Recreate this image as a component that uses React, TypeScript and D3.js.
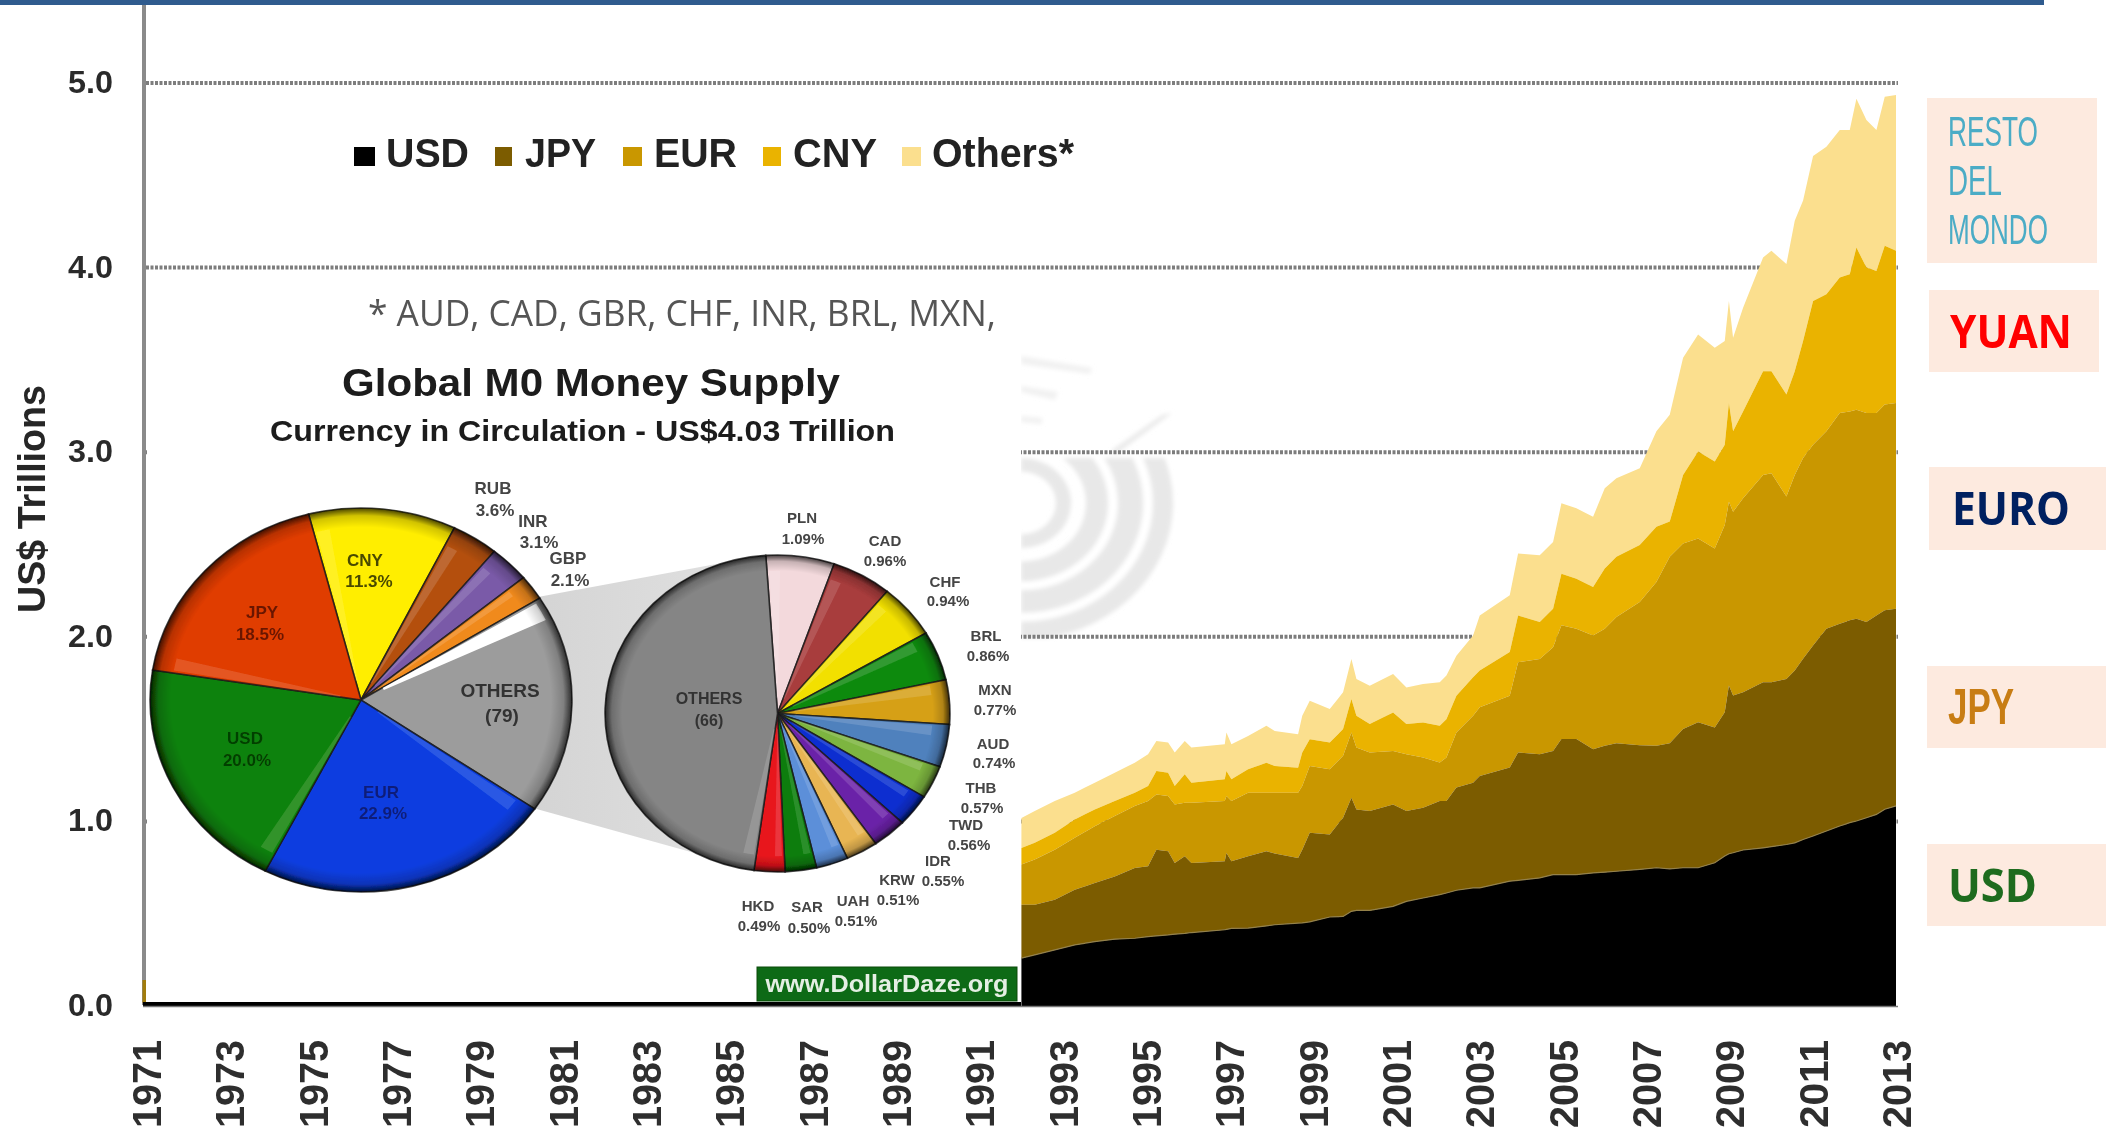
import React from "react";
import * as d3 from "d3";

// ---------- data ----------
const years = [
  1992.01,1992.33,1992.81,1993.29,1993.77,1994.25,1994.73,1995.05,1995.25,1995.53,1995.69,1995.93,1996.09,1996.89,1996.93,1997.05,1997.45,1997.89,1998.09,1998.65,1998.75,1998.93,
  1999.41,1999.73,1999.93,2000.05,2000.37,2000.93,2001.25,2001.65,2002.05,2002.21,2002.45,2002.85,2003.01,2003.73,2003.93,2004.45,2004.77,2004.97,2005.33,2005.73,
  2006.01,2006.29,2006.85,2007.25,2007.57,2007.89,2008.25,2008.65,2008.89,2008.99,2009.09,2009.33,2009.81,2010.01,2010.37,2010.57,2010.77,2011.01,2011.33,2011.65,2011.89,2012.05,2012.29,2012.53,2012.73,2013.0,
];
const usdTop = [
  .259,.277,.304,.331,.349,.362,.367,.376,.380,.385,.389,.393,.398,.413,.415,.420,.422,.434,.440,.449,.450,.456,
  .482,.485,.513,.518,.518,.540,.567,.585,.603,.612,.627,.640,.640,.676,.681,.694,.712,.712,.712,.721,
  .725,.730,.740,.749,.743,.749,.749,.776,.812,.825,.830,.845,.857,.863,.875,.884,.902,.921,.948,.975,.993,1.002,1.020,1.038,1.066,1.084,
];
const jpyTop = [
  .548,.548,.576,.630,.666,.702,.748,.757,.847,.838,.775,.811,.775,.784,.829,.784,.811,.838,.826,.802,.847,.938,
  .929,1.020,1.128,1.065,1.056,1.092,1.056,1.074,1.110,1.110,1.183,1.210,1.246,1.292,1.373,1.364,1.382,1.446,1.446,1.391,
  1.410,1.424,1.413,1.410,1.424,1.500,1.537,1.509,1.591,1.736,1.682,1.700,1.754,1.754,1.772,1.817,1.881,1.953,2.044,2.071,2.089,2.098,2.080,2.116,2.144,2.152,
];
const eurTop = [
  .766,.793,.847,.911,.974,1.029,1.083,1.110,1.146,1.137,1.092,1.101,1.101,1.110,1.137,1.110,1.155,1.155,1.155,1.155,1.192,1.300,
  1.283,1.355,1.482,1.400,1.373,1.382,1.364,1.346,1.319,1.346,1.482,1.572,1.618,1.681,1.862,1.880,1.944,2.062,2.043,2.007,
  2.044,2.107,2.189,2.297,2.433,2.506,2.533,2.479,2.605,2.732,2.678,2.750,2.877,2.886,2.760,2.877,2.968,3.040,3.113,3.212,3.221,3.230,3.212,3.212,3.258,3.267,
];
const cnyTop = [
  .856,.884,.938,1.010,1.065,1.110,1.155,1.192,1.273,1.264,1.192,1.255,1.210,1.228,1.273,1.228,1.282,1.318,1.300,1.291,1.373,1.445,
  1.428,1.500,1.663,1.572,1.527,1.590,1.527,1.536,1.518,1.554,1.681,1.781,1.817,1.917,2.116,2.080,2.152,2.342,2.315,2.270,
  2.370,2.433,2.497,2.596,2.624,2.877,3.004,2.950,3.040,3.267,3.113,3.221,3.439,3.439,3.312,3.439,3.602,3.819,3.855,3.946,3.964,4.109,4.000,3.982,4.118,4.091,
];
const othersTop = [
  1.019,1.056,1.110,1.155,1.210,1.264,1.318,1.364,1.436,1.427,1.373,1.436,1.400,1.418,1.481,1.418,1.463,1.518,1.490,1.472,1.572,1.653,
  1.609,1.699,1.880,1.772,1.735,1.799,1.726,1.744,1.754,1.790,1.898,2.007,2.116,2.225,2.451,2.442,2.514,2.723,2.696,2.650,
  2.805,2.859,2.913,3.113,3.203,3.511,3.638,3.566,3.602,3.819,3.620,3.783,4.055,4.091,4.019,4.254,4.363,4.605,4.655,4.745,4.745,4.915,4.800,4.745,4.925,4.935,
];
const stackNames = ["USD", "JPY", "EUR", "CNY", "Others*"];
const stackColors = ["#000000", "#7b5b00", "#c99700", "#eab300", "#fbdf8e"];
const stackTops = [usdTop, jpyTop, eurTop, cnyTop, othersTop];

const yTicks = [0, 1, 2, 3, 4, 5];
const xTickYears = d3.range(1971, 2014, 2);

const mainNames = ["CNY", "RUB", "INR", "GBP", "OTHERS", "EUR", "USD", "JPY"];
const mainShares = [11.3, 3.6, 3.1, 2.1, 18.5, 22.9, 20.0, 18.5];
const mainColors = ["#ffee00", "#b4500f", "#7a5aa8", "#f08a1e", "#9c9c9c", "#0a3ee0", "#0f820a", "#e03c00"];

const otherNames = ["PLN", "CAD", "CHF", "BRL", "MXN", "AUD", "THB", "TWD", "IDR", "KRW", "UAH", "SAR", "HKD", "OTHERS"];
const otherShares = [1.09, 0.96, 0.94, 0.86, 0.77, 0.74, 0.57, 0.56, 0.55, 0.51, 0.51, 0.50, 0.49, 7.94];
const otherColors = ["#f3d9dc", "#a83c3c", "#f2e000", "#0f8a0f", "#d6a017", "#4f81bd", "#7db53f", "#0a2fd0", "#6b22a8", "#e8b552", "#5b8fd9", "#0a7d0a", "#e8141c", "#858585"];

// text, x, baseline y, colour, size
const mainLabels: [string, number, number, string, number][] = [
  ["RUB", 493, 494, "#444", 17], ["3.6%", 495, 516, "#444", 17],
  ["INR", 533, 527, "#444", 17], ["3.1%", 539, 548, "#444", 17],
  ["GBP", 568, 564, "#444", 17], ["2.1%", 570, 586, "#444", 17],
  ["CNY", 365, 566, "#4a4a00", 17], ["11.3%", 369, 587, "#4a4a00", 17],
  ["JPY", 262, 618, "#6a1800", 17], ["18.5%", 260, 640, "#6a1800", 17],
  ["USD", 245, 744, "#063f06", 17], ["20.0%", 247, 766, "#063f06", 17],
  ["EUR", 381, 798, "#0a1f7a", 17], ["22.9%", 383, 819, "#0a1f7a", 17],
  ["OTHERS", 500, 697, "#333", 19], ["(79)", 502, 722, "#333", 19],
];
const otherLabels: [string, number, number, string, number][] = [
  ["PLN", 802, 523, "#444", 15], ["1.09%", 803, 544, "#444", 15],
  ["CAD", 885, 546, "#444", 15], ["0.96%", 885, 566, "#444", 15],
  ["CHF", 945, 587, "#444", 15], ["0.94%", 948, 606, "#444", 15],
  ["BRL", 986, 641, "#444", 15], ["0.86%", 988, 661, "#444", 15],
  ["MXN", 995, 695, "#444", 15], ["0.77%", 995, 715, "#444", 15],
  ["AUD", 993, 749, "#444", 15], ["0.74%", 994, 768, "#444", 15],
  ["THB", 981, 793, "#444", 15], ["0.57%", 982, 813, "#444", 15],
  ["TWD", 966, 830, "#444", 15], ["0.56%", 969, 850, "#444", 15],
  ["IDR", 938, 866, "#444", 15], ["0.55%", 943, 886, "#444", 15],
  ["KRW", 897, 885, "#444", 15], ["0.51%", 898, 905, "#444", 15],
  ["UAH", 853, 906, "#444", 15], ["0.51%", 856, 926, "#444", 15],
  ["SAR", 807, 912, "#444", 15], ["0.50%", 809, 933, "#444", 15],
  ["HKD", 758, 911, "#444", 15], ["0.49%", 759, 931, "#444", 15],
  ["OTHERS", 709, 704, "#333", 16], ["(66)", 709, 726, "#333", 16],
];

// ---------- layout ----------
const W = 2106, H = 1135;
const x = d3.scaleLinear().domain([1971, 2013]).range([146, 1896]);
const y = d3.scaleLinear().domain([0, 5]).range([1006, 83]);
const ARIAL = "'Liberation Sans', Arial, sans-serif";
const NARROW = "'Liberation Sans Narrow', 'Liberation Sans', sans-serif";
const NOTO = "'Open Sans', 'Noto Sans', sans-serif";

const legendLayout = [
  { sq: 354, sw: 21, tx: 386, tw: 83 },
  { sq: 495, sw: 17, tx: 525, tw: 71 },
  { sq: 623, sw: 19, tx: 654, tw: 83 },
  { sq: 763, sw: 18, tx: 793, tw: 84 },
  { sq: 902, sw: 19, tx: 932, tw: 142 },
];

const sideLabels = [
  { box: [1927, 98, 170, 165], lines: [["RESTO", 1948, 146, 90], ["DEL", 1948, 195, 54], ["MONDO", 1948, 244, 100]], color: "#4bacc6", font: NARROW, weight: 400, size: 43 },
  { box: [1929, 290, 170, 82], lines: [["YUAN", 1950, 348, 122]], color: "#ff0000", font: NOTO, weight: 700, size: 46 },
  { box: [1929, 467, 177, 83], lines: [["EURO", 1952, 525, 118]], color: "#002060", font: NOTO, weight: 700, size: 46 },
  { box: [1927, 666, 179, 82], lines: [["JPY", 1948, 724, 66]], color: "#c87d14", font: NARROW, weight: 700, size: 50 },
  { box: [1927, 844, 179, 82], lines: [["USD", 1948, 902, 89]], color: "#1e6b1e", font: NOTO, weight: 700, size: 46 },
];

function Pie({ id, cx, cy, rx, ry, names, shares, colors, start, glint }: any) {
  const pie = d3.pie<number>().sort(null).startAngle(start).endAngle(start + 2 * Math.PI);
  const arcs = pie(shares);
  const full = d3.arc<any>().innerRadius(0).outerRadius(100);
  const sheen = d3.arc<any>().innerRadius(10).outerRadius(90);
  const glintArc = d3.arc<any>().innerRadius(12).outerRadius(97);
  return (
    <g transform={`translate(${cx},${cy}) scale(${rx / 100},${ry / 100})`}>
      {arcs.map((a: any, i: number) => (
        <path key={names[i]} d={full(a) as string} fill={colors[i]} stroke="#1a1a1a" strokeOpacity={0.8} strokeWidth={1.6} vectorEffect="non-scaling-stroke" />
      ))}
      {arcs.map((a: any, i: number) => {
        const span = a.endAngle - a.startAngle;
        if (glint === names[i]) {
          return <path key={names[i] + "s"} d={glintArc({ startAngle: a.startAngle + 0.015, endAngle: a.startAngle + 0.115 }) as string} fill="#fff" />;
        }
        return (
          <path key={names[i] + "s"} d={sheen({ startAngle: a.startAngle + 0.015, endAngle: a.startAngle + 0.015 + Math.min(span * 0.25, 0.07) }) as string}
            fill="#fff" fillOpacity={0.14} />
        );
      })}
      <circle r={100} fill={`url(#rim-${id})`} />
    </g>
  );
}

function Rim({ id }: { id: string }) {
  return (
    <radialGradient id={`rim-${id}`} gradientUnits="userSpaceOnUse" cx={0} cy={0} r={100}>
      <stop offset="0.9" stopColor="#000" stopOpacity={0} />
      <stop offset="0.96" stopColor="#000" stopOpacity={0.18} />
      <stop offset="1" stopColor="#000" stopOpacity={0.72} />
    </radialGradient>
  );
}

export default function App() {
  const areas = stackTops.map((tops, s) =>
    d3.area<number>()
      .x((_, i) => x(years[i]))
      .y0((_, i) => (s === 0 ? y(0) : y(stackTops[s - 1][i])))
      .y1((d) => y(d))(tops) as string
  ).map((d, s) => ({ d, color: stackColors[s], name: stackNames[s] }));
  const usdEdge = d3.line<number>().x((_, i) => x(years[i])).y((d) => y(d))(usdTop) as string;

  const ring = d3.arc<any>();
  const ringBands = [[35, 50], [65, 87], [97, 122], [132, 152]];

  return (
    <svg width={W} height={H} viewBox={`0 0 ${W} ${H}`} style={{ position: "absolute", left: 0, top: 0, display: "block", background: "#fff" }}>
      <defs>
        <filter id="soft" x="0" y="0" width="100%" height="100%"><feGaussianBlur stdDeviation="0.6" /></filter>
        <filter id="softer" x="-10%" y="-10%" width="120%" height="120%"><feGaussianBlur stdDeviation="2" /></filter>
        <clipPath id="wm"><rect x={1021} y={458} width={170} height={180} /></clipPath>
        <Rim id="a" />
        <Rim id="b" />
        <linearGradient id="fan" x1="0" x2="1" y1="0" y2="0">
          <stop offset="0" stopColor="#d4d4d4" />
          <stop offset="1" stopColor="#e2e2e2" />
        </linearGradient>
      </defs>

      <g filter="url(#soft)">
        {/* watermark behind the plot */}
        <g filter="url(#softer)">
          <g clipPath="url(#wm)">
            <g transform="translate(1021,503) scale(1,0.9)">
              {ringBands.map(([a, b]) => (
                <path key={a} d={ring({ innerRadius: a, outerRadius: b, startAngle: 0, endAngle: Math.PI }) as string} fill="#e8e8e8" />
              ))}
            </g>
          </g>
          <path d="M1115 455 L1172 413 L1162 415 L1112 450 Z" fill="#eaeaea" />
          <path d="M1021 356 L1092 368 L1090 374 L1021 364 Z M1021 386 L1058 392 L1055 400 L1021 392 Z M1021 416 L1042 418 L1042 424 L1021 422 Z" fill="#f1f1f1" />
        </g>

        {/* gridlines */}
        {yTicks.filter((t) => t > 0).map((t) => (
          <line key={t} x1={146} x2={1898} y1={y(t)} y2={y(t)} stroke="#7d7d7d" strokeWidth={4} strokeDasharray="3 1.5" />
        ))}

        {/* stacked areas */}
        {areas.slice().reverse().map((a) => (
          <path key={a.name} d={a.d} fill={a.color} />
        ))}
        <path d={usdEdge} fill="none" stroke="#94814a" strokeWidth={1.2} />

        {/* white inset holding the pie graphic */}
        <rect x={147} y={345} width={874} height={658} fill="#fff" />

        {/* axes */}
        <line x1={144} x2={144} y1={5} y2={1005} stroke="#8a8a8a" strokeWidth={4} />
        <rect x={142.5} y={980} width={3.5} height={23} fill="#a27c10" />
        <line x1={143} x2={1021} y1={1004} y2={1004} stroke="#000" strokeWidth={4} />
        <line x1={143} x2={1898} y1={1006.5} y2={1006.5} stroke="#777" strokeWidth={1.6} />

        {yTicks.map((t) => (
          <text key={t} x={113} y={y(t) + 10} textAnchor="end" fontFamily={ARIAL} fontWeight={700} fontSize={32} textLength={45} lengthAdjust="spacingAndGlyphs" fill="#2b2b2b">{t.toFixed(1)}</text>
        ))}
        {xTickYears.map((yr) => (
          <text key={yr} transform={`translate(${x(yr) + 15},1040) rotate(-90)`} textAnchor="end" fontFamily={ARIAL} fontWeight={700} fontSize={41} textLength={88} lengthAdjust="spacingAndGlyphs" fill="#2e2e2e">{yr}</text>
        ))}
        <text transform="translate(45,499) rotate(-90)" textAnchor="middle" fontFamily={ARIAL} fontWeight={700} fontSize={38} textLength={228} lengthAdjust="spacingAndGlyphs" fill="#262626">US$ Trillions</text>

        {/* legend */}
        {stackNames.map((n, i) => {
          const l = legendLayout[i];
          return (
            <g key={n}>
              <rect x={l.sq} y={147} width={l.sw} height={19} fill={stackColors[i]} />
              <text x={l.tx} y={167} fontFamily={ARIAL} fontWeight={700} fontSize={41} textLength={l.tw} lengthAdjust="spacingAndGlyphs" fill="#222">{n}</text>
            </g>
          );
        })}
        <text x={368} y={326} fontFamily={NOTO} fontSize={36} textLength={628} lengthAdjust="spacingAndGlyphs" fill="#555">* AUD, CAD, GBR, CHF, INR, BRL, MXN,</text>

        <text x={342} y={396} fontFamily={ARIAL} fontWeight={700} fontSize={39} textLength={498} lengthAdjust="spacingAndGlyphs" fill="#1a1a1a">Global M0 Money Supply</text>
        <text x={270} y={441} fontFamily={ARIAL} fontWeight={700} fontSize={30} textLength={625} lengthAdjust="spacingAndGlyphs" fill="#1a1a1a">Currency in Circulation - US$4.03 Trillion</text>

        {/* pies */}
        <path d="M538 597 L765 555 L752 869 L533 808 Z" fill="url(#fan)" />
        <Pie id="a" cx={361} cy={700} rx={211} ry={192} names={mainNames} shares={mainShares} colors={mainColors} start={-14.4 * Math.PI / 180} glint="OTHERS" />
        <Pie id="b" cx={777.5} cy={713.5} rx={172.5} ry={158.5} names={otherNames} shares={otherShares} colors={otherColors} start={-3.9 * Math.PI / 180} />
        {[...mainLabels, ...otherLabels].map(([t, lx, ly, c, s], i) => (
          <text key={i} x={lx} y={ly} textAnchor="middle" fontFamily={ARIAL} fontWeight={700} fontSize={s} fill={c}>{t}</text>
        ))}

        <rect x={757} y={967} width={260} height={34} fill="#0f6b14" stroke="#0a4a0e" strokeWidth={1} />
        <text x={887} y={992} textAnchor="middle" fontFamily={ARIAL} fontWeight={700} fontSize={24} textLength={243} lengthAdjust="spacingAndGlyphs" fill="#e4efe4">www.DollarDaze.org</text>
      </g>

      {/* banner */}
      <rect x={0} y={0} width={2044} height={5} fill="#2f5b8e" />

      {/* side labels */}
      {sideLabels.map((s) => (
        <g key={s.lines[0][0] as string}>
          <rect x={s.box[0]} y={s.box[1]} width={s.box[2]} height={s.box[3]} fill="#fdeadf" />
          {s.lines.map((l: any) => (
            <text key={l[0]} x={l[1]} y={l[2]} fontFamily={s.font} fontWeight={s.weight} fontSize={s.size} textLength={l[3]} lengthAdjust="spacingAndGlyphs" fill={s.color}>{l[0]}</text>
          ))}
        </g>
      ))}
    </svg>
  );
}
